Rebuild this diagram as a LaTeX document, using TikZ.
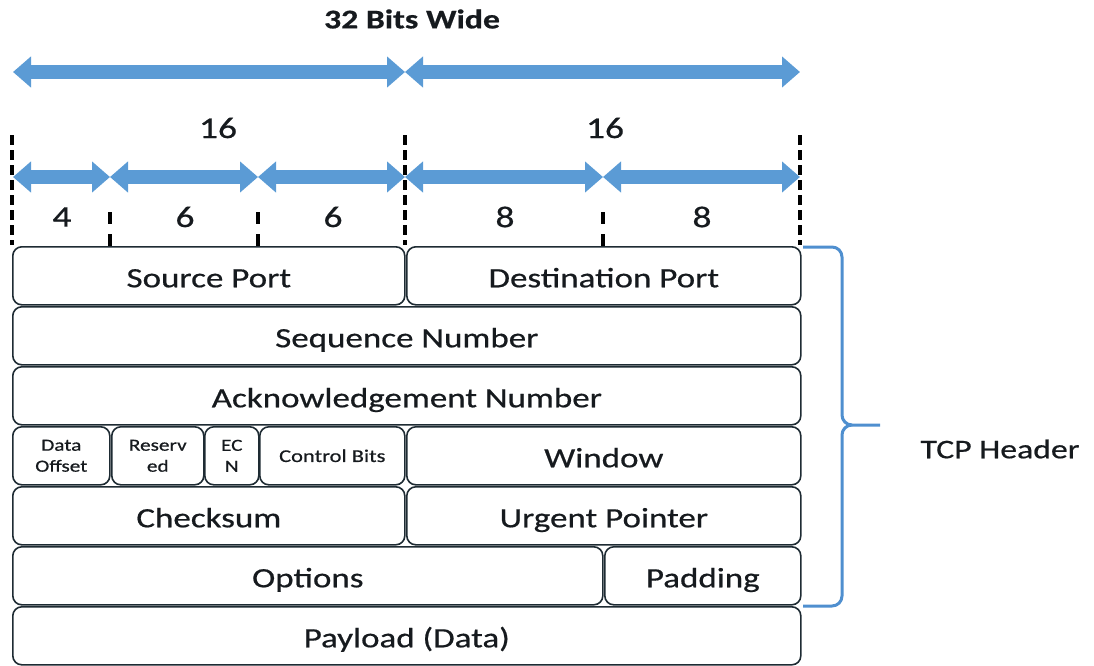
\documentclass[tikz,border=0pt]{standalone}
\usepackage{fontspec}
\setmainfont{Carlito}[FakeStretch=1.25, FakeBold=0.6]
\usetikzlibrary{arrows.meta}
\definecolor{arrowblue}{HTML}{5B9BD5}
\definecolor{bracewblue}{HTML}{4F8FCF}
\definecolor{boxline}{HTML}{1E2B33}
\definecolor{ink}{HTML}{161A1E}
\tikzset{
  field/.style={draw=boxline, line width=1.6pt, rounded corners=9pt,
    anchor=north west, inner sep=0pt, minimum height=58pt, text=ink,
    text height=23pt, text depth=0pt,
    font=\fontsize{28}{32}\selectfont},
  smallfield/.style={field, align=center, text height=, text depth=,
    font=\fontsize{17}{21}\selectfont},
  dimarrow/.style={draw=arrowblue, line width=14pt,
    {Triangle[width=30pt,length=18pt]}-{Triangle[width=30pt,length=18pt]}},
  fulltick/.style={draw=black, line width=3.4pt, dash pattern=on 10pt off 5pt},
  shorttick/.style={draw=black, line width=3.4pt, dash pattern=on 12pt off 10pt},
  label/.style={text=ink, inner sep=0pt, font=\fontsize{30}{34}\selectfont},
}
\begin{document}
\begin{tikzpicture}[x=1pt, y=-1pt]
\useasboundingbox (0,0) rectangle (1094,666);

% title
\node[label, font=\fontsize{27}{32}\selectfont\bfseries] (title) at (412,19) {32 Bits Wide};

% 32-bit span
\coordinate (t0) at (13,72);
\coordinate (t1) at (405,72);
\coordinate (t2) at (800,72);
\draw[dimarrow] (t0) -- (t1);
\draw[dimarrow] (t1) -- (t2);

\node[label] (half1) at (218,128) {16};
\node[label] (half2) at (605,128) {16};

% field-width spans
\coordinate (m0) at (13,177);
\coordinate (m1) at (110,177);
\coordinate (m2) at (258,177);
\coordinate (m3) at (405,177);
\coordinate (m4) at (603,177);
\coordinate (m5) at (800,177);
\draw[dimarrow] (m0) -- (m1);
\draw[dimarrow] (m1) -- (m2);
\draw[dimarrow] (m2) -- (m3);
\draw[dimarrow] (m3) -- (m4);
\draw[dimarrow] (m4) -- (m5);

% dashed boundary marks
\coordinate (d0a) at (12,135);  \coordinate (d0b) at (12,245);
\coordinate (d3a) at (405,135); \coordinate (d3b) at (405,245);
\coordinate (d5a) at (800,135); \coordinate (d5b) at (800,245);
\coordinate (d1a) at (110,212); \coordinate (d1b) at (110,246);
\coordinate (d2a) at (258,212); \coordinate (d2b) at (258,246);
\coordinate (d4a) at (603,212); \coordinate (d4b) at (603,246);
\draw[fulltick] (d0a) -- (d0b);
\draw[fulltick] (d3a) -- (d3b);
\draw[fulltick] (d5a) -- (d5b);
\draw[shorttick] (d1a) -- (d1b);
\draw[shorttick] (d2a) -- (d2b);
\draw[shorttick] (d4a) -- (d4b);

\node[label] (w4) at (62,217) {4};
\node[label] (w6a) at (185,217) {6};
\node[label] (w6b) at (333,217) {6};
\node[label] (w8a) at (505,217) {8};
\node[label] (w8b) at (702,217) {8};

% header rows
\node[field, minimum width=392pt] (src) at (12,246) {Source Port};
\node[field, minimum width=394pt] (dst) at (406,246) {Destination Port};
\node[field, minimum width=788pt] (seq) at (12,306) {Sequence Number};
\node[field, minimum width=788pt] (ack) at (12,366) {Acknowledgement Number};
\node[smallfield, minimum width=97pt] (doff) at (12,426) {Data\\Offset};
\node[smallfield, minimum width=92pt] (resv) at (111,426) {Reserv\\ed};
\node[smallfield, minimum width=54pt] (ecn) at (204,426) {EC\\N};
\node[smallfield, minimum width=145pt, font=\fontsize{18}{22}\selectfont] (ctrl) at (259,426) {Control Bits};
\node[field, minimum width=394pt] (win) at (406,426) {Window};
\node[field, minimum width=392pt] (chk) at (12,486) {Checksum};
\node[field, minimum width=394pt] (urg) at (406,486) {Urgent Pointer};
\node[field, minimum width=590pt] (opt) at (12,546) {Options};
\node[field, minimum width=196pt] (pad) at (604,546) {Padding};
\node[field, minimum width=788pt] (pay) at (12,606) {Payload (Data)};

% brace over the header rows
\coordinate (bt) at (803,247);
\coordinate (bm) at (880,425);
\coordinate (bb) at (803,606);
\draw[draw=bracewblue, line width=3pt]
  (bt) -- (832,247) to[out=0,in=90] (842,257) -- (842,415)
  to[out=-90,in=180] (852,425) -- (bm);
\draw[draw=bracewblue, line width=3pt]
  (852,425) to[out=180,in=90] (842,435) -- (842,596)
  to[out=-90,in=0] (832,606) -- (bb);

\node[label, font=\fontsize{27}{32}\selectfont] (tcp) at (1000,449) {TCP Header};
\end{tikzpicture}
\end{document}
